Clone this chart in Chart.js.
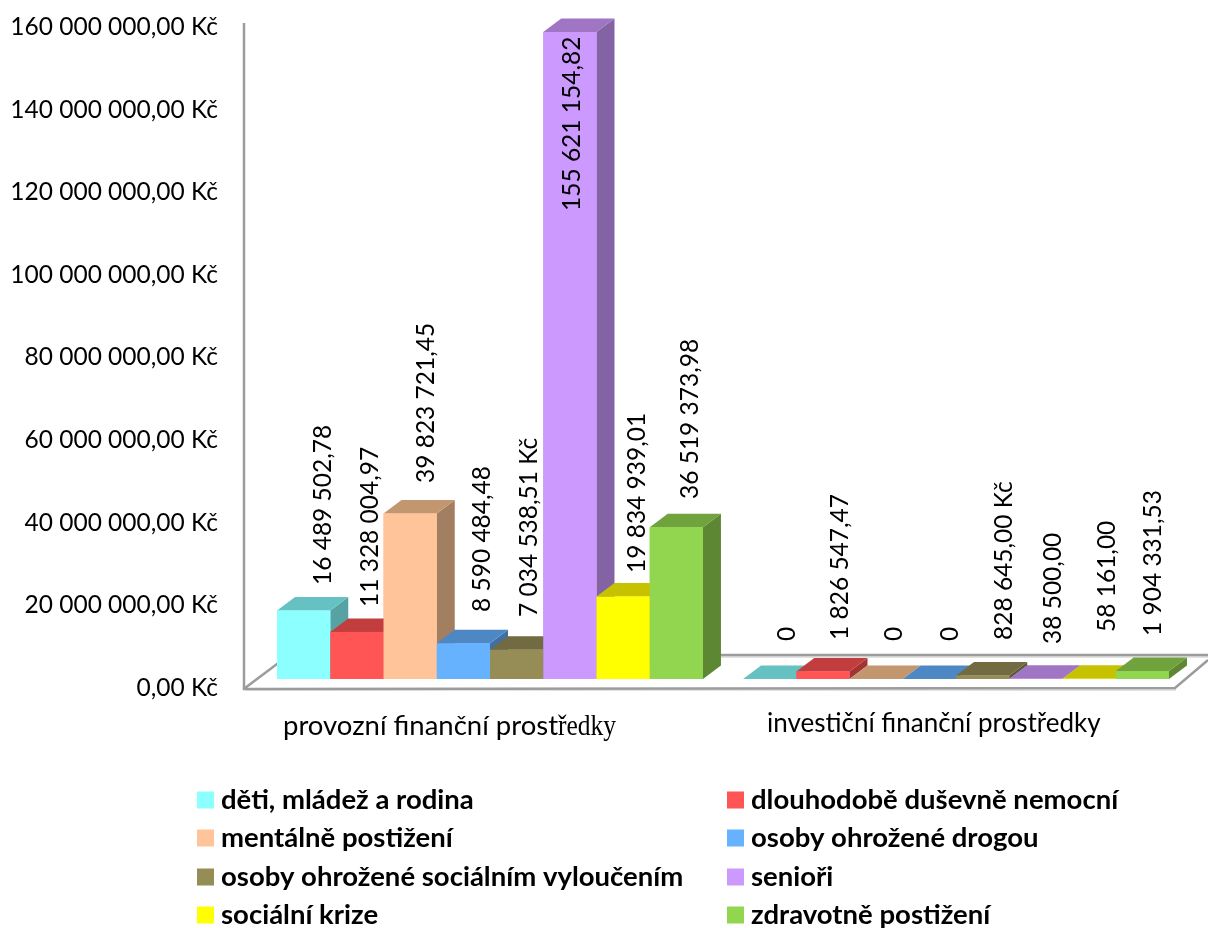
<!DOCTYPE html>
<html><head><meta charset="utf-8">
<script src="https://cdn.jsdelivr.net/npm/chart.js@4"></script>
<style>html,body{margin:0;padding:0;background:#fff;overflow:hidden}canvas{display:block}</style>
</head><body><canvas id="c" width="1208" height="928"></canvas>
<script>
const categories = ["provozní finanční prostředky", "investiční finanční prostředky"];
const seriesNames = ["děti, mládež a rodina","dlouhodobě duševně nemocní","mentálně postižení","osoby ohrožené drogou","osoby ohrožené sociálním vyloučením","senioři","sociální krize","zdravotně postižení"];
const deti = [16489502.78, 0];
const dlouhodobe = [11328004.97, 1826547.47];
const mentalne = [39823721.45, 0];
const drogy = [8590484.48, 0];
const vylouceni = [7034538.51, 828645.00];
const seniori = [155621154.82, 38500.00];
const krize = [19834939.01, 58161.00];
const zdravotne = [36519373.98, 1904331.53];
const seriesValues = [deti, dlouhodobe, mentalne, drogy, vylouceni, seniori, krize, zdravotne];
const valueLabels = [
  ["16 489 502,78","0"],["11 328 004,97","1 826 547,47"],["39 823 721,45","0"],["8 590 484,48","0"],
  ["7 034 538,51 Kč","828 645,00 Kč"],["155 621 154,82","38 500,00"],["19 834 939,01","58 161,00"],["36 519 373,98","1 904 331,53"]];
const tickValues = [0,20000000,40000000,60000000,80000000,100000000,120000000,140000000,160000000];

const frontColors = ["#8CFFFF","#FF5555","#FFC499","#66B2FF","#968C55","#CC99FF","#FFFF00","#92D650"];
const topColors   = ["#66C2C2","#C23E3E","#C2966F","#4D87C4","#726A40","#9F75C4","#C7C200","#70A23D"];
const sideColors  = ["#57A3A3","#A33333","#A37F62","#3F6FA3","#5F5835","#8363A3","#A3A000","#5E8733"];
// rotated label anchors in px (centre x, lower end y)
const labelAbs = [[323,787],[370,840],[426,894],[482,950],[529,1004],[572,1053],[637,1107],[690,1153]];
const labelBottom = [[585,641],[607,640],[483,641],[612,641],[617,640],[211,644],[573,632],[499,636]];

const DX = 18, DY = 13.5;
const LATO = 'Lato, "Open Sans", sans-serif';

function poly(ctx, pts, color){
  ctx.fillStyle = color; ctx.beginPath();
  pts.forEach((p,i)=> i ? ctx.lineTo(p[0],p[1]) : ctx.moveTo(p[0],p[1]));
  ctx.closePath(); ctx.fill();
}
const scene = {
  id:'scene',
  beforeDatasetsDraw(chart){
    const ctx = chart.ctx, y0 = chart.scales.y.getPixelForValue(0), yTop = chart.scales.y.getPixelForValue(160000000);
    ctx.save();
    ctx.lineCap='butt';
    ctx.strokeStyle='#E2E2E2'; ctx.lineWidth=2;
    ctx.beginPath(); ctx.moveTo(246,y0+2); ctx.lineTo(1176,y0+2); ctx.stroke();
    ctx.beginPath(); ctx.moveTo(720,y0-31); ctx.lineTo(1208,y0-31); ctx.stroke();
    ctx.strokeStyle='#9C9C9C'; ctx.lineWidth=2.5;
    ctx.beginPath();
    ctx.moveTo(244,yTop-4); ctx.lineTo(244,y0+1); ctx.lineTo(1175,y0);
    ctx.lineTo(1208,y0-28);
    ctx.moveTo(245,y0); ctx.lineTo(285,y0-30);
    ctx.moveTo(285,y0-33); ctx.lineTo(1208,y0-33);
    ctx.stroke();
    ctx.restore();
  },
  afterDatasetsDraw(chart){
    const ctx = chart.ctx;
    ctx.save();
    seriesValues.forEach((vals,i)=>{
      chart.getDatasetMeta(i).data.forEach(el=>{
        const p = el.getProps(['x','y','base','width']);
        const l=p.x-p.width/2, r=p.x+p.width/2, t=p.y, b=p.base;
        poly(ctx,[[r,t],[r+DX,t-DY],[r+DX,b-DY],[r,b]],sideColors[i]);
        poly(ctx,[[l,t],[r,t],[r+DX,t-DY],[l+DX,t-DY]],topColors[i]);
        ctx.fillStyle=frontColors[i]; ctx.fillRect(l,t,p.width,b-t);
      });
    });
    // rotated value labels
    ctx.fillStyle='#000'; ctx.font='24.5px '+LATO; ctx.textAlign='left'; ctx.textBaseline='middle';
    valueLabels.forEach((row,i)=>row.forEach((txt,j)=>{
      ctx.save(); ctx.translate(labelAbs[i][j],labelBottom[i][j]); ctx.rotate(-Math.PI/2);
      ctx.fillText(txt,0,0); ctx.restore();
    }));
    // category labels
    ctx.textBaseline='alphabetic'; ctx.textAlign='left';
    const a=categories[0], cut=a.indexOf('ředky');
    ctx.font='27.5px '+LATO; const head=a.slice(0,cut);
    ctx.fillText(head,283,735);
    const w=ctx.measureText(head).width;
    ctx.save(); ctx.translate(283+w,735); ctx.scale(0.85,1);
    ctx.font='30px "Liberation Serif", serif'; ctx.fillText(a.slice(cut),0,0); ctx.restore();
    ctx.font='26px '+LATO; ctx.fillText(categories[1],767,732);
    // legend
    const rows=[800,838,877,915], cols=[197,727];
    seriesNames.forEach((n,i)=>{
      const x=cols[i%2], y=rows[Math.floor(i/2)];
      ctx.fillStyle=frontColors[i]; ctx.fillRect(x,y-8.5,17,17);
      ctx.fillStyle='#000'; ctx.font='bold 27.5px '+LATO; ctx.textBaseline='middle';
      ctx.fillText(n,x+24,y);
    });
    ctx.restore();
  }
};
new Chart(document.getElementById('c').getContext('2d'),{
  type:'bar',
  data:{labels:categories,datasets:seriesNames.map((n,i)=>({label:n,data:seriesValues[i],yAxisID:'y2',
    backgroundColor:frontColors[i],borderWidth:0,categoryPercentage:0.914,barPercentage:1}))},
  options:{
    responsive:false,animation:false,
    layout:{padding:{top:27,bottom:240,right:19,left:0}},
    plugins:{legend:{display:false},tooltip:{enabled:false},title:{display:false}},
    scales:{
      x:{display:false},
      y:{position:'left',min:0,max:160000000,
        afterFit(s){s.width=257;s.paddingTop=0;s.paddingBottom=0;},
        afterBuildTicks(s){s.ticks=tickValues.map(v=>({value:v}));},
        grid:{display:false,drawTicks:false},border:{display:false},
        ticks:{padding:39,color:'#000',font:{family:LATO,size:24.5},autoSkip:false,
          callback(v){return String(v).replace(/\B(?=(\d{3})+$)/g,' ')+',00 Kč';}}},
      y2:{display:false,position:'left',min:-2165000,max:156850000}
    }
  },
  plugins:[scene]
});
</script></body></html>
